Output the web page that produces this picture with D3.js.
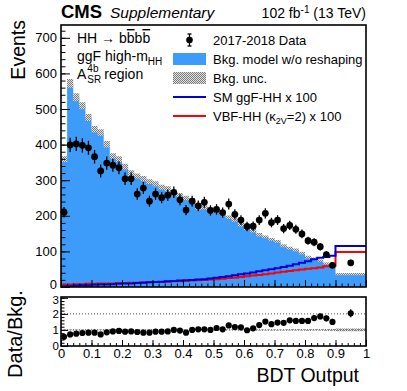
<!DOCTYPE html>
<html>
<head>
<meta charset="utf-8">
<script src="https://cdn.jsdelivr.net/npm/d3@7"></script>
<style>
  body { margin: 0; background: #fff; }
  svg text { font-family: "Liberation Sans", Arial, sans-serif; fill: #000; }
  .axis path { display: none; }
  .axis line { stroke: #000; stroke-width: 1; }
  .axis text { font-size: 13px; }
  .ratio-y text { font-size: 11.5px; }
</style>
</head>
<body>
<div id="chart"></div>
<script>
// bin edges: 0.02 wide up to 0.9, then one wide bin 0.9-1.0
const binEdges = d3.range(46).map(i => i * 0.02).concat([1.0]);

// observed events per bin
const dataCounts = [210, 399, 402, 398, 391, 366, 326, 348, 342, 335,
                    304, 304, 261, 278, 241, 261, 251, 258, 266, 245,
                    216, 241, 228, 238, 215, 218, 209, 233, 204, 188,
                    170, 171, 188, 207, 181, 188, 164, 173, 162, 149,
                    130, 126, 113, 91, 61, 68];

// background model w/o reshaping
const bkgModel = [359, 572, 533, 509, 476, 443, 434, 401, 368, 359,
                  338, 320, 312, 305, 296, 290, 280, 276, 262, 258,
                  250, 244, 224, 224, 218, 214, 208, 196, 188, 175,
                  165, 158, 147, 141, 134, 128, 116, 109, 104, 95,
                  84, 80, 74, 66, 57, 36];

// background uncertainty (absolute)
const bkgUnc = [8, 12, 11, 10, 10, 9, 9, 9, 8, 8,
                8, 8, 7, 7, 7, 7, 7, 7, 6, 6,
                6, 6, 6, 6, 6, 6, 5, 5, 5, 5,
                5, 5, 5, 4, 4, 4, 4, 4, 4, 4,
                4, 3, 3, 3, 3, 3];

// SM ggF-HH x 100
const ggfSignal = [2, 3, 4, 5, 5, 6, 7, 7, 8, 9,
                   10, 10, 11, 12, 13, 14, 15, 16, 17, 18,
                   19, 20, 21, 22, 24, 26, 28, 30, 33, 36,
                   38, 41, 44, 47, 50, 53, 56, 60, 64, 68,
                   72, 78, 82, 84, 88, 115];

// VBF-HH (k2V=2) x 100
const vbfSignal = [7, 7, 8, 8, 9, 9, 10, 10, 10, 11,
                   11, 12, 12, 13, 13, 14, 14, 15, 16, 16,
                   17, 18, 19, 20, 21, 22, 23, 25, 26, 28,
                   30, 32, 34, 36, 38, 41, 43, 45, 47, 49,
                   51, 53, 55, 58, 60, 98];

// lower panel: data / bkg
const ratioValues = [0.57, 0.72, 0.77, 0.81, 0.83, 0.83, 0.72, 0.85, 0.91, 0.94,
                     0.89, 0.91, 0.87, 0.83, 0.83, 0.89, 0.89, 0.91, 1.0, 0.96,
                     0.83, 1.0, 1.04, 1.04, 1.0, 1.12, 1.04, 1.28, 1.18, 1.16,
                     0.98, 1.1, 1.3, 1.52, 1.36, 1.46, 1.44, 1.6, 1.56, 1.56,
                     1.56, 1.74, 1.84, 1.72, 1.5, 2.04];

const yTicksMain = [0, 100, 200, 300, 400, 500, 600, 700];
const yTicksRatio = [0, 1, 2, 3];
const xTicks = d3.range(11).map(i => i / 10);

const W = 407, H = 391;
const left = 61, right = 366;
const mainTop = 25, mainBottom = 287;
const ratioTop = 297, ratioBottom = 346;

const svg = d3.select("#chart").append("svg")
  .attr("width", W).attr("height", H);

// hatch pattern for bkg unc
const defs = svg.append("defs");
const pat = defs.append("pattern").attr("id", "hatch")
  .attr("patternUnits", "userSpaceOnUse").attr("width", 2).attr("height", 2);
pat.append("rect").attr("width", 2).attr("height", 2).attr("fill", "#e2e2e2");
pat.append("rect").attr("width", 1).attr("height", 1).attr("fill", "#7a7a7a");
pat.append("rect").attr("x", 1).attr("y", 1).attr("width", 1).attr("height", 1).attr("fill", "#7a7a7a");

const x = d3.scaleLinear().domain([0, 1]).range([left, right]);
const y = d3.scaleLinear().domain([0, 736]).range([mainBottom, mainTop]);
const yr = d3.scaleLinear().domain([0, 3.05]).range([ratioBottom, ratioTop]);

// step points: value of bin i at its low edge, last value repeated at the top edge
function stepPoints(vals) {
  const pts = vals.map((v, i) => [binEdges[i], v]);
  pts.push([binEdges[binEdges.length - 1], vals[vals.length - 1]]);
  return pts;
}
const centers = dataCounts.map((d, i) => (binEdges[i] + binEdges[i + 1]) / 2);

// background fill
svg.append("path")
  .datum(stepPoints(bkgModel))
  .attr("fill", "#3d9cfa")
  .attr("d", d3.area().curve(d3.curveStepAfter)
    .x(d => x(d[0])).y0(y(0)).y1(d => y(d[1])));

// bkg unc band
const uncPts = bkgModel.map((v, i) => [binEdges[i], v - bkgUnc[i], v + bkgUnc[i]]);
uncPts.push([1.0, bkgModel[45] - bkgUnc[45], bkgModel[45] + bkgUnc[45]]);
svg.append("path")
  .datum(uncPts)
  .attr("fill", "url(#hatch)")
  .attr("d", d3.area().curve(d3.curveStepAfter)
    .x(d => x(d[0])).y0(d => y(d[1])).y1(d => y(d[2])));

// signal histograms
const stepLine = d3.line().curve(d3.curveStepAfter).x(d => x(d[0])).y(d => y(d[1]));
svg.append("path").datum(stepPoints(vbfSignal))
  .attr("fill", "none").attr("stroke", "#ff0000").attr("stroke-width", 2).attr("d", stepLine);
svg.append("path").datum(stepPoints(ggfSignal))
  .attr("fill", "none").attr("stroke", "#0000d8").attr("stroke-width", 2).attr("d", stepLine);

// data points
const dataG = svg.append("g");
dataG.selectAll("line").data(dataCounts).join("line")
  .attr("x1", (d, i) => x(centers[i])).attr("x2", (d, i) => x(centers[i]))
  .attr("y1", d => y(d - Math.sqrt(d))).attr("y2", d => y(d + Math.sqrt(d)))
  .attr("stroke", "#000").attr("stroke-width", 1.3);
dataG.selectAll("circle").data(dataCounts).join("circle")
  .attr("cx", (d, i) => x(centers[i])).attr("cy", d => y(d)).attr("r", 3.4).attr("fill", "#000");

// main frame + axes
svg.append("rect").attr("x", left).attr("y", mainTop)
  .attr("width", right - left).attr("height", mainBottom - mainTop)
  .attr("fill", "none").attr("stroke", "#000").attr("stroke-width", 1.6);

const mainY = svg.append("g").attr("class", "axis").attr("transform", `translate(${left},0)`)
  .call(d3.axisLeft(y).tickValues(yTicksMain).tickSize(-9).tickPadding(4).tickFormat(d3.format("d")));
// keep the bottom "0" clear of the ratio panel's "3"
mainY.selectAll(".tick text").filter(d => d === 0).attr("dy", "0.1em");
svg.append("g").attr("class", "axis").attr("transform", `translate(${left},0)`)
  .call(d3.axisLeft(y).tickValues(d3.range(0, 736, 20)).tickSize(-4.5).tickFormat(""));
svg.append("g").attr("class", "axis").attr("transform", `translate(0,${mainBottom})`)
  .call(d3.axisBottom(x).tickValues(xTicks).tickSize(-7).tickFormat(""));
svg.append("g").attr("class", "axis").attr("transform", `translate(0,${mainBottom})`)
  .call(d3.axisBottom(x).tickValues(d3.range(51).map(i => i / 50)).tickSize(-3.5).tickFormat(""));

// ratio panel
const ratioUnc = bkgModel.map((v, i) => [binEdges[i], 1 - bkgUnc[i] / v, 1 + bkgUnc[i] / v]);
ratioUnc.push([1.0, ratioUnc[45][1], ratioUnc[45][2]]);
svg.append("path").datum(ratioUnc)
  .attr("fill", "url(#hatch)")
  .attr("d", d3.area().curve(d3.curveStepAfter)
    .x(d => x(d[0])).y0(d => yr(d[1])).y1(d => yr(d[2])));
[1, 2].forEach(v => {
  svg.append("line").attr("x1", left).attr("x2", right)
    .attr("y1", yr(v)).attr("y2", yr(v))
    .attr("stroke", "#555").attr("stroke-width", 1).attr("stroke-dasharray", "1,2");
});

const ratioG = svg.append("g");
ratioG.selectAll("line").data(ratioValues).join("line")
  .attr("x1", (d, i) => x(centers[i])).attr("x2", (d, i) => x(centers[i]))
  .attr("y1", (d, i) => yr(d - d / Math.sqrt(dataCounts[i])))
  .attr("y2", (d, i) => yr(d + d / Math.sqrt(dataCounts[i])))
  .attr("stroke", "#000").attr("stroke-width", 1.3);
ratioG.selectAll("circle").data(ratioValues).join("circle")
  .attr("cx", (d, i) => x(centers[i])).attr("cy", d => yr(d)).attr("r", 3.1).attr("fill", "#000");

svg.append("rect").attr("x", left).attr("y", ratioTop)
  .attr("width", right - left).attr("height", ratioBottom - ratioTop)
  .attr("fill", "none").attr("stroke", "#000").attr("stroke-width", 1.6);

const ratioY = svg.append("g").attr("class", "axis ratio-y").attr("transform", `translate(${left},0)`)
  .call(d3.axisLeft(yr).tickValues(yTicksRatio).tickSize(-7).tickPadding(2).tickFormat(d3.format("d")));
ratioY.selectAll(".tick text").filter(d => d === 3).attr("dy", "0.5em");
svg.append("g").attr("class", "axis").attr("transform", `translate(${left},0)`)
  .call(d3.axisLeft(yr).tickValues(d3.range(16).map(i => i / 5)).tickSize(-3.5).tickFormat(""));
svg.append("g").attr("class", "axis").attr("transform", `translate(0,${ratioBottom})`)
  .call(d3.axisBottom(x).tickValues(xTicks).tickSize(-6).tickPadding(3).tickFormat(d3.format("~g")));
svg.append("g").attr("class", "axis").attr("transform", `translate(0,${ratioBottom})`)
  .call(d3.axisBottom(x).tickValues(d3.range(51).map(i => i / 50)).tickSize(-3).tickFormat(""));

// axis titles
svg.append("text").attr("transform", "translate(25,20) rotate(-90)")
  .attr("text-anchor", "end").attr("font-size", 19.5).text("Events");
svg.append("text").attr("transform", "translate(22,334) rotate(-90)")
  .attr("text-anchor", "middle").attr("font-size", 20).text("Data/Bkg.");
svg.append("text").attr("x", 359).attr("y", 382)
  .attr("text-anchor", "end").attr("font-size", 19.5).text("BDT Output");

// header
svg.append("text").attr("x", 61).attr("y", 18)
  .attr("font-size", 18.5).attr("font-weight", "bold").text("CMS");
svg.append("text").attr("x", 110).attr("y", 18)
  .attr("font-size", 15.5).attr("font-style", "italic").text("Supplementary");
const lumi = svg.append("text").attr("x", 366).attr("y", 18)
  .attr("text-anchor", "end").attr("font-size", 14);
lumi.append("tspan").text("102 fb");
lumi.append("tspan").attr("dy", -5).attr("font-size", 10).text("-1");
lumi.append("tspan").attr("dy", 5).text(" (13 TeV)");

// region label
const t1 = svg.append("text").attr("x", 77).attr("y", 43).attr("font-size", 14);
t1.append("tspan").text("HH \u2192 b");
t1.append("tspan").style("text-decoration", "overline").text("b");
t1.append("tspan").text("b");
t1.append("tspan").style("text-decoration", "overline").text("b");

const t2 = svg.append("text").attr("x", 77).attr("y", 61).attr("font-size", 14);
t2.append("tspan").text("ggF high-m");
t2.append("tspan").attr("dy", 4).attr("font-size", 10).text("HH");

const tA = svg.append("text").attr("x", 77).attr("y", 79).attr("font-size", 14).text("A");
const aW = tA.node().getComputedTextLength();
svg.append("text").attr("x", 77 + aW + 1).attr("y", 72).attr("font-size", 10).text("4b");
const sr = svg.append("text").attr("x", 77 + aW + 1).attr("y", 83).attr("font-size", 10).text("SR");
const srW = sr.node().getComputedTextLength();
svg.append("text").attr("x", 77 + aW + 1 + srW + 3).attr("y", 79).attr("font-size", 14).text("region");

// legend
const lgX0 = 173, lgX1 = 206, lgText = 213;
const rows = [40, 59, 78, 97, 116];
const lg = svg.append("g");
lg.append("line").attr("x1", 189.5).attr("x2", 189.5).attr("y1", rows[0] - 6).attr("y2", rows[0] + 6)
  .attr("stroke", "#000").attr("stroke-width", 1.3);
[-6, 6].forEach(dy => lg.append("line").attr("x1", 187.5).attr("x2", 191.5)
  .attr("y1", rows[0] + dy).attr("y2", rows[0] + dy).attr("stroke", "#000").attr("stroke-width", 1.3));
lg.append("circle").attr("cx", 189.5).attr("cy", rows[0]).attr("r", 3.3).attr("fill", "#000");
lg.append("rect").attr("x", lgX0).attr("y", rows[1] - 6).attr("width", lgX1 - lgX0).attr("height", 12)
  .attr("fill", "#3d9cfa");
lg.append("rect").attr("x", lgX0).attr("y", rows[2] - 6).attr("width", lgX1 - lgX0).attr("height", 12)
  .attr("fill", "url(#hatch)");
lg.append("line").attr("x1", lgX0).attr("x2", lgX1).attr("y1", rows[3]).attr("y2", rows[3])
  .attr("stroke", "#0000d8").attr("stroke-width", 2);
lg.append("line").attr("x1", lgX0).attr("x2", lgX1).attr("y1", rows[4]).attr("y2", rows[4])
  .attr("stroke", "#ff0000").attr("stroke-width", 2);

const lgLabels = ["2017-2018 Data", "Bkg. model w/o reshaping", "Bkg. unc.", "SM ggF-HH x 100"];
lgLabels.forEach((s, i) => lg.append("text").attr("x", lgText).attr("y", rows[i] + 4.5)
  .attr("font-size", 13).text(s));
const vbfT = lg.append("text").attr("x", lgText).attr("y", rows[4] + 4.5).attr("font-size", 13);
vbfT.append("tspan").text("VBF-HH (\u03ba");
vbfT.append("tspan").attr("dy", 3).attr("font-size", 9).text("2V");
vbfT.append("tspan").attr("dy", -3).text("=2) x 100");
</script>
</body>
</html>
